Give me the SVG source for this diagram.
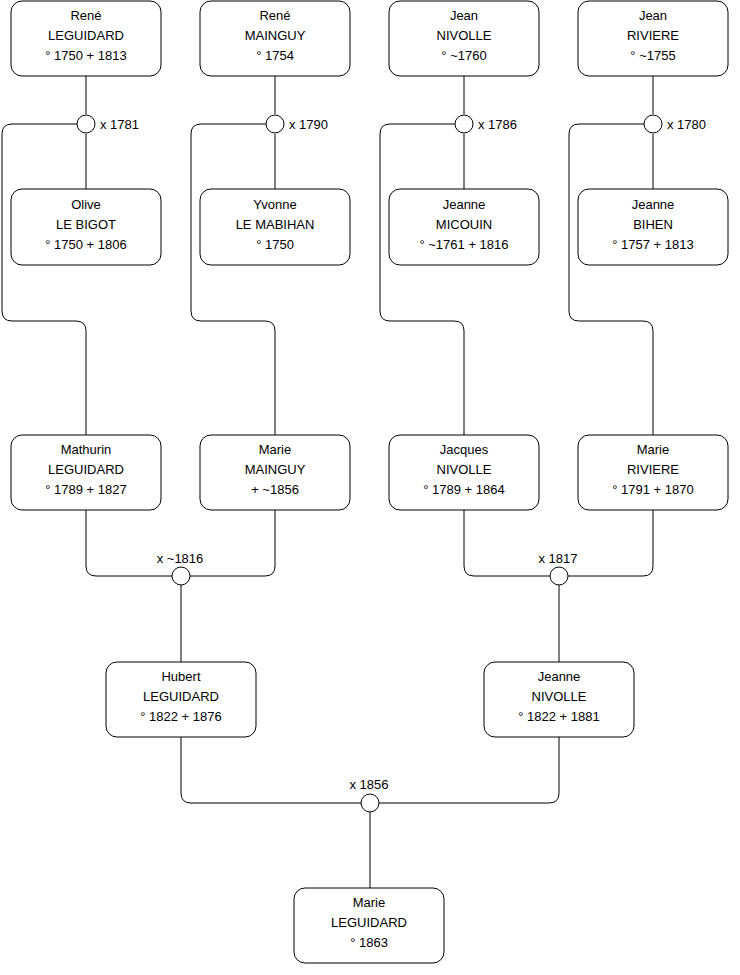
<svg xmlns="http://www.w3.org/2000/svg" width="740" height="975" viewBox="0 0 740 975">
<style>
.box{fill:#fff;stroke:#000;stroke-width:1}
.t{font-family:"Liberation Sans",Arial,sans-serif;font-size:13px;fill:#000;text-anchor:middle}
.l{font-family:"Liberation Sans",Arial,sans-serif;font-size:13px;fill:#000}
.c{fill:none;stroke:#000;stroke-width:1}
.m{fill:#fff;stroke:#000;stroke-width:1}
</style>
<rect width="740" height="975" fill="#fff"/>
<g id="connectors">
<path class="c" d="M86,76 V114 M86,134 V189"/>
<path class="c" d="M275,76 V114 M275,134 V189"/>
<path class="c" d="M464,76 V114 M464,134 V189"/>
<path class="c" d="M653,76 V114 M653,134 V189"/>
<path class="c" d="M77,124 H12 Q2,124 2,134 V311 Q2,321 12,321 H76 Q86,321 86,331 V435"/>
<path class="c" d="M266,124 H201 Q191,124 191,134 V311 Q191,321 201,321 H265 Q275,321 275,331 V435"/>
<path class="c" d="M455,124 H390 Q380,124 380,134 V311 Q380,321 390,321 H454 Q464,321 464,331 V435"/>
<path class="c" d="M644,124 H579 Q569,124 569,134 V311 Q569,321 579,321 H643 Q653,321 653,331 V435"/>
<path class="c" d="M86,510 V566 Q86,576 96,576 H172 M190,576 H265 Q275,576 275,566 V510"/>
<path class="c" d="M464,510 V566 Q464,576 474,576 H550 M568,576 H643 Q653,576 653,566 V510"/>
<path class="c" d="M181,585 V662 M559,585 V662"/>
<path class="c" d="M181,737 V793 Q181,803 191,803 H361 M379,803 H549 Q559,803 559,793 V737"/>
<path class="c" d="M370,812 V888"/>
</g>
<g id="marriages">
<g id="m1781"><circle class="m" cx="86" cy="124" r="9"/><text class="l" x="100" y="128.5">x 1781</text></g>
<g id="m1790"><circle class="m" cx="275" cy="124" r="9"/><text class="l" x="289" y="128.5">x 1790</text></g>
<g id="m1786"><circle class="m" cx="464" cy="124" r="9"/><text class="l" x="478" y="128.5">x 1786</text></g>
<g id="m1780"><circle class="m" cx="653" cy="124" r="9"/><text class="l" x="667" y="128.5">x 1780</text></g>
<g id="m1816"><circle class="m" cx="181" cy="576" r="9"/><text class="t" x="180" y="563">x ~1816</text></g>
<g id="m1817"><circle class="m" cx="559" cy="576" r="9"/><text class="t" x="558" y="563">x 1817</text></g>
<g id="m1856"><circle class="m" cx="370" cy="803" r="9"/><text class="t" x="369" y="789">x 1856</text></g>
</g>
<g id="n1"><rect class="box" x="11" y="1" width="150" height="75" rx="11"/><text class="t" x="86" y="20">René</text><text class="t" x="86" y="40">LEGUIDARD</text><text class="t" x="86" y="60">° 1750 + 1813</text></g>
<g id="n2"><rect class="box" x="200" y="1" width="150" height="75" rx="11"/><text class="t" x="275" y="20">René</text><text class="t" x="275" y="40">MAINGUY</text><text class="t" x="275" y="60">° 1754</text></g>
<g id="n3"><rect class="box" x="389" y="1" width="150" height="75" rx="11"/><text class="t" x="464" y="20">Jean</text><text class="t" x="464" y="40">NIVOLLE</text><text class="t" x="464" y="60">° ~1760</text></g>
<g id="n4"><rect class="box" x="578" y="1" width="150" height="75" rx="11"/><text class="t" x="653" y="20">Jean</text><text class="t" x="653" y="40">RIVIERE</text><text class="t" x="653" y="60">° ~1755</text></g>
<g id="n5"><rect class="box" x="11" y="189" width="150" height="76" rx="11"/><text class="t" x="86" y="209">Olive</text><text class="t" x="86" y="229">LE BIGOT</text><text class="t" x="86" y="249">° 1750 + 1806</text></g>
<g id="n6"><rect class="box" x="200" y="189" width="150" height="76" rx="11"/><text class="t" x="275" y="209">Yvonne</text><text class="t" x="275" y="229">LE MABIHAN</text><text class="t" x="275" y="249">° 1750</text></g>
<g id="n7"><rect class="box" x="389" y="189" width="150" height="76" rx="11"/><text class="t" x="464" y="209">Jeanne</text><text class="t" x="464" y="229">MICOUIN</text><text class="t" x="464" y="249">° ~1761 + 1816</text></g>
<g id="n8"><rect class="box" x="578" y="189" width="150" height="76" rx="11"/><text class="t" x="653" y="209">Jeanne</text><text class="t" x="653" y="229">BIHEN</text><text class="t" x="653" y="249">° 1757 + 1813</text></g>
<g id="n9"><rect class="box" x="11" y="435" width="150" height="75" rx="11"/><text class="t" x="86" y="454">Mathurin</text><text class="t" x="86" y="474">LEGUIDARD</text><text class="t" x="86" y="494">° 1789 + 1827</text></g>
<g id="n10"><rect class="box" x="200" y="435" width="150" height="75" rx="11"/><text class="t" x="275" y="454">Marie</text><text class="t" x="275" y="474">MAINGUY</text><text class="t" x="275" y="494">+ ~1856</text></g>
<g id="n11"><rect class="box" x="389" y="435" width="150" height="75" rx="11"/><text class="t" x="464" y="454">Jacques</text><text class="t" x="464" y="474">NIVOLLE</text><text class="t" x="464" y="494">° 1789 + 1864</text></g>
<g id="n12"><rect class="box" x="578" y="435" width="150" height="75" rx="11"/><text class="t" x="653" y="454">Marie</text><text class="t" x="653" y="474">RIVIERE</text><text class="t" x="653" y="494">° 1791 + 1870</text></g>
<g id="n13"><rect class="box" x="106" y="662" width="150" height="75" rx="11"/><text class="t" x="181" y="681">Hubert</text><text class="t" x="181" y="701">LEGUIDARD</text><text class="t" x="181" y="721">° 1822 + 1876</text></g>
<g id="n14"><rect class="box" x="484" y="662" width="150" height="75" rx="11"/><text class="t" x="559" y="681">Jeanne</text><text class="t" x="559" y="701">NIVOLLE</text><text class="t" x="559" y="721">° 1822 + 1881</text></g>
<g id="n15"><rect class="box" x="294" y="888" width="150" height="75" rx="11"/><text class="t" x="369" y="907">Marie</text><text class="t" x="369" y="927">LEGUIDARD</text><text class="t" x="369" y="947">° 1863</text></g>
</svg>
